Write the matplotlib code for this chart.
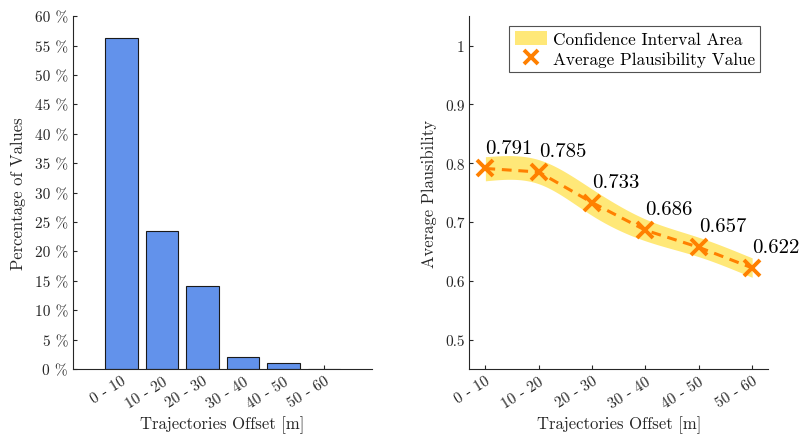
import numpy as np
import matplotlib
matplotlib.use("Agg")
import matplotlib.pyplot as plt
from matplotlib.patches import Patch
from matplotlib.lines import Line2D

# ── Data ──
categories = ["0 - 10", "10 - 20", "20 - 30", "30 - 40", "40 - 50", "50 - 60"]
pct_values = [56.3, 23.4, 14.1, 2.1, 1.0, 0.0]
plaus_avg = [0.791, 0.785, 0.733, 0.686, 0.657, 0.622]
ci_upper = [0.811, 0.806, 0.756, 0.705, 0.674, 0.639]
ci_lower = [0.770, 0.765, 0.711, 0.668, 0.641, 0.606]
pct_ticks = [0, 5, 10, 15, 20, 25, 30, 35, 40, 45, 50, 55, 60]
plaus_ticks = [0.5, 0.6, 0.7, 0.8, 0.9, 1.0]

# ── Style ──
plt.rcParams["font.family"] = ["cmr10", "DejaVu Serif"]
plt.rcParams["mathtext.fontset"] = "cm"
plt.rcParams["axes.unicode_minus"] = False
plt.rcParams["axes.formatter.use_mathtext"] = True

AX_COLOR = "#262626"
BAR_COLOR = "#6292EB"
ORANGE = "#FF8000"
YELLOW = "#FFE878"


def natural_spline(x, y, n=200):
    """Natural cubic spline, only used to draw the band edges smoothly."""
    x = np.asarray(x, float)
    y = np.asarray(y, float)
    k = len(x)
    h = np.diff(x)
    A = np.zeros((k, k))
    r = np.zeros(k)
    A[0, 0] = A[-1, -1] = 1
    for i in range(1, k - 1):
        A[i, i - 1] = h[i - 1]
        A[i, i] = 2 * (h[i - 1] + h[i])
        A[i, i + 1] = h[i]
        r[i] = 3 * ((y[i + 1] - y[i]) / h[i] - (y[i] - y[i - 1]) / h[i - 1])
    c = np.linalg.solve(A, r)
    xs = np.linspace(x[0], x[-1], n)
    idx = np.clip(np.searchsorted(x, xs) - 1, 0, k - 2)
    dx = xs - x[idx]
    b = (y[1:] - y[:-1]) / h - h * (2 * c[:-1] + c[1:]) / 3
    d = (c[1:] - c[:-1]) / (3 * h)
    ys = y[idx] + b[idx] * dx + c[idx] * dx ** 2 + d[idx] * dx ** 3
    return xs, ys


def style_axes(ax):
    for side in ("top", "right"):
        ax.spines[side].set_visible(False)
    for side in ("left", "bottom"):
        ax.spines[side].set_color(AX_COLOR)
        ax.spines[side].set_linewidth(0.8)
    ax.tick_params(direction="in", length=3, width=0.8, colors=AX_COLOR,
                   labelsize=11, labelcolor=AX_COLOR)


fig = plt.figure(figsize=(8.01, 4.39), dpi=100)
ax1 = fig.add_axes([0.091, 0.157, 0.373, 0.804])
ax2 = fig.add_axes([0.586, 0.157, 0.373, 0.804])

# ── Left: histogram of offsets ──
xpos = np.arange(1, len(categories) + 1)
ax1.bar(xpos, pct_values, width=0.8, color=BAR_COLOR, edgecolor="#1a1a1a",
        linewidth=0.8, zorder=2)
ax1.set_xlim(-0.2, 7.17)
ax1.set_ylim(0, 60)
ax1.set_yticks(pct_ticks)
ax1.set_yticklabels([f"{t} %" for t in pct_ticks])
ax1.set_xticks(xpos)
ax1.set_xticklabels(categories, rotation=32, ha="right", rotation_mode="anchor")
ax1.set_xlabel("Trajectories Offset [m]", fontsize=12, color=AX_COLOR, labelpad=4)
ax1.set_ylabel("Percentage of Values", fontsize=12, color=AX_COLOR, labelpad=6)
style_axes(ax1)

# ── Right: plausibility with confidence band ──
xs, up_s = natural_spline(xpos, ci_upper)
_, lo_s = natural_spline(xpos, ci_lower)
ax2.fill_between(xs, lo_s, up_s, color=YELLOW, linewidth=0, zorder=1)
ax2.plot(xpos, plaus_avg, color=ORANGE, linewidth=2.2, dashes=(3.2, 2.2), zorder=2)
ax2.plot(xpos, plaus_avg, "x", color=ORANGE, markersize=12, markeredgewidth=2.8,
         linestyle="none", zorder=3)
for x, v in zip(xpos, plaus_avg):
    ax2.text(x, v + 0.027, f"{v:.3f}", fontsize=15, color="black",
             ha="left", va="baseline", clip_on=False)

ax2.set_xlim(0.7, 6.3)
ax2.set_ylim(0.45, 1.05)
ax2.set_yticks(plaus_ticks)
ax2.set_yticklabels(["0.5", "0.6", "0.7", "0.8", "0.9", "1"])
ax2.set_xticks(xpos)
ax2.set_xticklabels(categories, rotation=32, ha="right", rotation_mode="anchor")
ax2.set_xlabel("Trajectories Offset [m]", fontsize=12, color=AX_COLOR, labelpad=4)
ax2.set_ylabel("Average Plausibility", fontsize=12, color=AX_COLOR, labelpad=6)
style_axes(ax2)

handles = [
    Patch(facecolor=YELLOW, edgecolor="none", label="Confidence Interval Area"),
    Line2D([], [], marker="x", color=ORANGE, linestyle="none", markersize=10,
           markeredgewidth=2.8, label="Average Plausibility Value"),
]
leg = ax2.legend(handles=handles, loc="upper right", bbox_to_anchor=(0.972, 0.972),
                 fontsize=12.4, frameon=True, fancybox=False, borderpad=0.3,
                 handlelength=1.9, handleheight=0.9, handletextpad=0.3,
                 labelspacing=0.2, borderaxespad=0.0)
leg.get_frame().set_edgecolor(AX_COLOR)
leg.get_frame().set_linewidth(0.8)

fig.savefig("out.png", dpi=100)
